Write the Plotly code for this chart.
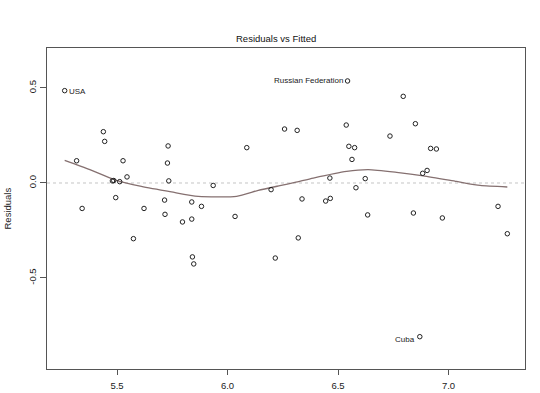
import plotly.graph_objects as go

# Fitted values and residuals
fitted = [5.263, 5.438, 5.444, 5.731, 5.317, 5.527, 5.728, 6.087, 6.258, 5.545,
          5.479, 5.485, 5.512, 5.734, 5.935, 6.197, 5.494, 5.342, 5.622, 5.715,
          5.838, 5.882, 5.717, 6.034, 5.838, 5.796, 5.574, 5.841, 5.847, 6.216,
          6.543, 6.795, 6.315, 6.537, 6.850, 6.735, 6.549, 6.575, 6.919, 6.945,
          6.563, 6.903, 6.883, 6.463, 6.623, 6.581, 6.337, 6.444, 6.465, 7.224,
          6.634, 6.841, 6.972, 6.320, 7.266, 6.870]
residuals = [0.486, 0.270, 0.219, 0.195, 0.117, 0.117, 0.105, 0.186, 0.284, 0.032,
             0.011, 0.013, 0.007, 0.011, -0.013, -0.035, -0.077, -0.134, -0.134, -0.090,
             -0.100, -0.123, -0.165, -0.176, -0.190, -0.205, -0.293, -0.389, -0.426, -0.395,
             0.537, 0.456, 0.277, 0.305, 0.312, 0.247, 0.193, 0.186, 0.182, 0.179,
             0.124, 0.066, 0.051, 0.026, 0.023, -0.025, -0.084, -0.095, -0.081, -0.123,
             -0.168, -0.158, -0.184, -0.289, -0.267, -0.809]

# Smoother (lowess) curve
smooth_x = [5.263, 5.377, 5.490, 5.610, 5.746, 5.867, 6.041, 6.139, 6.237, 6.305,
            6.388, 6.539, 6.637, 6.765, 6.886, 7.037, 7.143, 7.266]
smooth_y = [0.119, 0.070, 0.017, -0.018, -0.047, -0.070, -0.070, -0.039, -0.014, 0.003,
            0.026, 0.061, 0.070, 0.056, 0.038, 0.008, -0.013, -0.021]

# Labelled outliers
label_names = ["USA", "Russian Federation", "Cuba"]
label_x = [5.263, 6.543, 6.870]
label_y = [0.486, 0.537, -0.809]
label_side = ["right", "left", "left"]

x_ticks = [5.5, 6.0, 6.5, 7.0]
x_ticklabels = ["5.5", "6.0", "6.5", "7.0"]
y_ticks = [-0.5, 0.0, 0.5]
y_ticklabels = ["-0.5", "0.0", "0.5"]

FONT = "Liberation Sans, Arial, sans-serif"
AXC = "#555555"
TXT = "#222222"

fig = go.Figure()

fig.add_trace(go.Scatter(
    x=smooth_x, y=smooth_y, mode="lines", line_shape="spline",
    line=dict(color="#857070", width=1.3, smoothing=0.6),
    hoverinfo="skip", showlegend=False))

fig.add_trace(go.Scatter(
    x=fitted, y=residuals, mode="markers",
    marker=dict(symbol="circle-open", size=4.5, color="#222222", line=dict(width=1)),
    showlegend=False))

fig.add_hline(y=0, line=dict(color="#c4c4c4", width=1, dash="dot"), layer="below")

annotations = []
for name, lx, ly, side in zip(label_names, label_x, label_y, label_side):
    if side == "right":
        annotations.append(dict(x=lx, y=ly, text=name, showarrow=False,
                                xanchor="left", xshift=2, yshift=-1,
                                font=dict(family=FONT, size=8, color=TXT)))
    else:
        annotations.append(dict(x=lx, y=ly, text=name, showarrow=False,
                                xanchor="right", xshift=-3,
                                yshift=-3 if ly < 0 else 0,
                                font=dict(family=FONT, size=8, color=TXT)))

annotations.append(dict(xref="paper", yref="paper", x=0, y=0.5, xshift=-40,
                        text="Residuals", textangle=-90, showarrow=False,
                        xanchor="center", yanchor="middle",
                        font=dict(family=FONT, size=9.5, color=TXT)))
annotations.append(dict(xref="paper", yref="paper", x=0.48, y=1, yshift=2,
                        text="Residuals vs Fitted", showarrow=False,
                        xanchor="center", yanchor="bottom",
                        font=dict(family=FONT, size=9.5, color="#111111")))

fig.update_layout(
    width=540, height=393,
    margin=dict(l=47, r=15, t=48, b=24, autoexpand=False),
    paper_bgcolor="white", plot_bgcolor="white",
    annotations=annotations,
    font=dict(family=FONT, size=9.5, color=TXT),
    xaxis=dict(range=[5.183, 7.346], tickvals=x_ticks, ticktext=x_ticklabels,
               ticks="outside", ticklen=5, tickcolor=AXC, showgrid=False,
               zeroline=False, showline=True, linecolor=AXC, linewidth=1,
               mirror=True, ticklabelstandoff=3, automargin=False,
               tickfont=dict(family=FONT, size=9.5, color=TXT)),
    yaxis=dict(range=[-0.979, 0.7105], tickvals=y_ticks, ticktext=y_ticklabels,
               ticks="outside", ticklen=6, tickcolor=AXC, showgrid=False,
               zeroline=False, showline=True, linecolor=AXC, linewidth=1,
               mirror=True, tickangle=-90, automargin=False,
               tickfont=dict(family=FONT, size=9.5, color=TXT)),
)

fig.write_html("out.html", config={"displayModeBar": False},
               post_script="document.body.style.margin='0';document.body.style.overflow='hidden';")
